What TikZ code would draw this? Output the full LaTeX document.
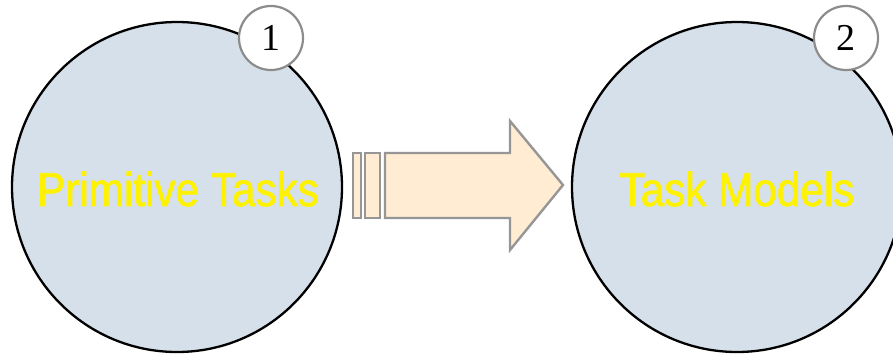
\documentclass[tikz,border=0pt]{standalone}
\usepackage{fontspec}
\newfontfamily\narrowsans[FakeStretch=0.89,FakeBold=1.5]{Liberation Sans}
\newfontfamily\badgeserif{Liberation Serif}
\definecolor{circfill}{RGB}{214,224,234}
\definecolor{arrowfill}{RGB}{255,236,210}
\definecolor{arrowgray}{RGB}{150,150,150}
\definecolor{badgegray}{RGB}{140,140,140}
\begin{document}
\begin{tikzpicture}[x=1pt,y=-1pt,
  bigcirc/.style={circle,draw=black,line width=2.3pt,fill=circfill,minimum size=330pt,inner sep=0pt},
  badge/.style={circle,draw=badgegray,line width=2.2pt,fill=white,minimum size=64pt,inner sep=0pt,font=\badgeserif\fontsize{38}{38}\selectfont},
  label/.style={text=yellow,font=\narrowsans\fontsize{47.5}{47.5}\selectfont},
  blockpart/.style={draw=arrowgray,line width=2.4pt,fill=arrowfill,line join=miter}]
\useasboundingbox (0,0) rectangle (893,354);
\node[bigcirc] (prim) at (177,187) {};
\node[label] (primtxt) at (178,189) {Primitive Tasks};
\node[bigcirc] (model) at (737,187) {};
\node[label] (modeltxt) at (737,189) {Task Models};
\node[badge] (b1) at (271,38) {1};
\node[badge] (b2) at (846,38) {2};
% block arrow
\draw[blockpart] (353,153) rectangle (361,218);
\draw[blockpart] (365,153) rectangle (380,218);
\draw[blockpart] (385,153) -- (510,153) -- (510,121) -- (563,185) -- (510,250) -- (510,218) -- (385,218) -- cycle;
\end{tikzpicture}
\end{document}
